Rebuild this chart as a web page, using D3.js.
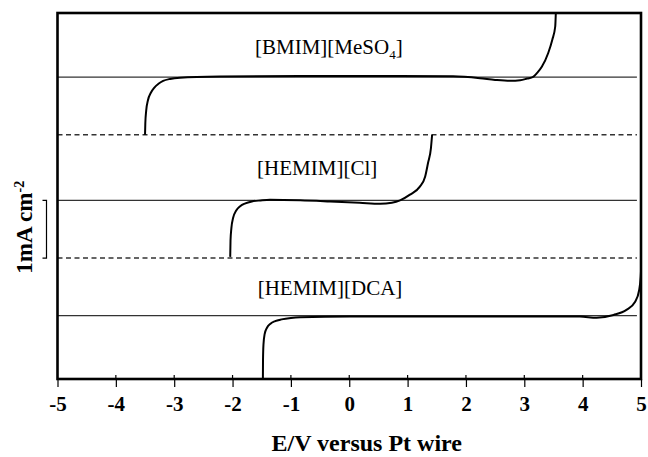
<!DOCTYPE html>
<html>
<head>
<meta charset="utf-8">
<script src="https://cdn.jsdelivr.net/npm/d3@7"></script>
<style>
  body { margin: 0; background: #fff; }
  svg text { font-family: "Liberation Serif", "Times New Roman", Times, serif !important; fill: #000; }
</style>
</head>
<body>
<div id="chart"></div>
<script>
// potential axis ticks
var xTicks = [-5, -4, -3, -2, -1, 0, 1, 2, 3, 4, 5];

// baselines (offset, mA cm-2) for each trace, and the dashed separators
var baselines = [5.24, 3.1, 1.1];
var separators = [4.24, 2.1];
var lineEnd = 4.93;

var names = ["[BMIM][MeSO", "[HEMIM][Cl]", "[HEMIM][DCA]"];
var nameSub = ["4", "", ""];
var labelE = [-0.35, -0.55, -0.33];
var labelLift = [0.40, 0.44, 0.35];

// current density relative to baseline (mA cm-2) vs potential (V)
var bmimE = [-3.50, -3.495, -3.48, -3.45, -3.40, -3.34, -3.27, -3.19, -3.07, -2.90, -2.22, -0.84, 0.87, 1.78, 2.24, 2.50, 2.76, 2.93, 3.05, 3.15, 3.22, 3.30, 3.41, 3.48, 3.53, 3.54];
var bmimJ = [-1.00, -0.80, -0.58, -0.40, -0.27, -0.18, -0.115, -0.065, -0.03, -0.01, 0.01, 0.02, 0.02, 0.015, -0.017, -0.047, -0.064, -0.055, -0.024, 0.005, 0.075, 0.18, 0.42, 0.65, 0.88, 1.11];

var clE = [-2.04, -2.035, -2.02, -1.99, -1.94, -1.87, -1.78, -1.67, -1.52, -1.36, -0.84, -0.33, 0.18, 0.53, 0.73, 0.87, 1.04, 1.21, 1.30, 1.35, 1.40, 1.42];
var clJ = [-0.98, -0.70, -0.48, -0.30, -0.18, -0.10, -0.05, -0.018, 0.0, 0.012, 0.003, -0.017, -0.04, -0.057, -0.04, 0, 0.10, 0.24, 0.41, 0.65, 0.91, 1.14];

var dcaE = [-1.48, -1.478, -1.47, -1.45, -1.41, -1.35, -1.27, -1.16, -1.00, -0.84, 0.01, 1.73, 3.95, 4.24, 4.53, 4.75, 4.90, 4.97, 4.995, 5.01];
var dcaJ = [-1.10, -0.77, -0.50, -0.32, -0.21, -0.14, -0.095, -0.065, -0.04, -0.028, -0.014, -0.014, -0.017, -0.035, 0.012, 0.10, 0.24, 0.45, 0.68, 0.97];

var traces = [[bmimE, bmimJ], [clE, clJ], [dcaE, dcaJ]];

var W = 648, H = 457;
var margin = {top: 13, right: 7, bottom: 78, left: 57.5};
var width = W - margin.left - margin.right,
    height = H - margin.top - margin.bottom;

var svg = d3.select("#chart").append("svg")
  .attr("width", W).attr("height", H);

var g = svg.append("g")
  .attr("transform", "translate(" + margin.left + "," + margin.top + ")");

var x = d3.scaleLinear().domain([-5, 5]).range([0, width]);
var y = d3.scaleLinear().domain([0, height / 57.6]).range([height, 0]);

svg.append("defs").append("clipPath").attr("id", "plotClip")
  .append("rect").attr("width", width).attr("height", height);

// solid baselines
g.selectAll(".base").data(baselines).enter().append("line")
  .attr("x1", x(-5)).attr("x2", x(lineEnd))
  .attr("y1", function(d){ return y(d); })
  .attr("y2", function(d){ return y(d); })
  .attr("stroke", "#333").attr("stroke-width", 1.3);

// dashed separators
g.selectAll(".sep").data(separators).enter().append("line")
  .attr("x1", x(-5)).attr("x2", x(lineEnd))
  .attr("y1", function(d){ return y(d); })
  .attr("y2", function(d){ return y(d); })
  .attr("stroke", "#333").attr("stroke-width", 1.4)
  .attr("stroke-dasharray", "5,3.5");

// voltammograms
var line = d3.line()
  .x(function(d){ return x(d[0]); })
  .y(function(d){ return y(d[1]); })
  .curve(d3.curveMonotoneX);

traces.forEach(function(t, i){
  var pts = t[0].map(function(e, k){ return [e, t[1][k] + baselines[i]]; });
  g.append("path")
    .datum(pts)
    .attr("clip-path", "url(#plotClip)")
    .attr("d", line)
    .attr("fill", "none")
    .attr("stroke", "#000")
    .attr("stroke-width", 2);
});

// trace names
names.forEach(function(n, i){
  var t = g.append("text")
    .attr("x", x(labelE[i]))
    .attr("y", y(baselines[i] + labelLift[i]))
    .attr("text-anchor", "middle")
    .style("font-size", "21px");
  t.append("tspan").text(n);
  if (nameSub[i]) {
    t.append("tspan").attr("dy", 5).style("font-size", "13px").text(nameSub[i]);
    t.append("tspan").attr("dy", -5).text("]");
  }
});

// frame
g.append("rect")
  .attr("width", width).attr("height", height)
  .attr("fill", "none").attr("stroke", "#000").attr("stroke-width", 2.6);

// x axis
var xAxis = g.append("g")
  .attr("transform", "translate(0," + height + ")")
  .call(d3.axisBottom(x).tickValues(xTicks).tickSize(8).tickPadding(9)
    .tickFormat(function(d){ return String(d); }));
xAxis.attr("font-family", null);
xAxis.select(".domain").remove();
xAxis.selectAll("line").attr("stroke", "#000").attr("stroke-width", 1.2);
xAxis.selectAll("text")
  .style("font-weight", "bold")
  .style("font-size", "21px")
  .attr("fill", "#000");
// small upward stub of each tick
g.selectAll(".tup").data(xTicks.slice(1, -1)).enter().append("line")
  .attr("x1", function(d){ return x(d); }).attr("x2", function(d){ return x(d); })
  .attr("y1", height - 4).attr("y2", height)
  .attr("stroke", "#000").attr("stroke-width", 1.2);

svg.append("text")
  .attr("x", margin.left + x(0.3))
  .attr("y", 451)
  .attr("text-anchor", "middle")
  .style("font-weight", "bold")
  .style("font-size", "24px")
  .text("E/V versus Pt wire");

// scale bar: 1 mA cm-2
var bar = g.append("g").attr("transform", "translate(-11,0)");
bar.append("path")
  .attr("d", "M-4," + y(baselines[1]) + "H0V" + y(separators[1]) + "H-4")
  .attr("fill", "none").attr("stroke", "#000").attr("stroke-width", 1.2);

var yl = svg.append("text")
  .attr("transform", "translate(32," + (margin.top + y((baselines[1] + separators[1]) / 2) - 2) + ") rotate(-90)")
  .attr("text-anchor", "middle")
  .style("font-weight", "bold")
  .style("font-size", "23px");
yl.append("tspan").text("1mA cm");
yl.append("tspan").attr("dy", -8).style("font-size", "14px").text("-2");
</script>
</body>
</html>
